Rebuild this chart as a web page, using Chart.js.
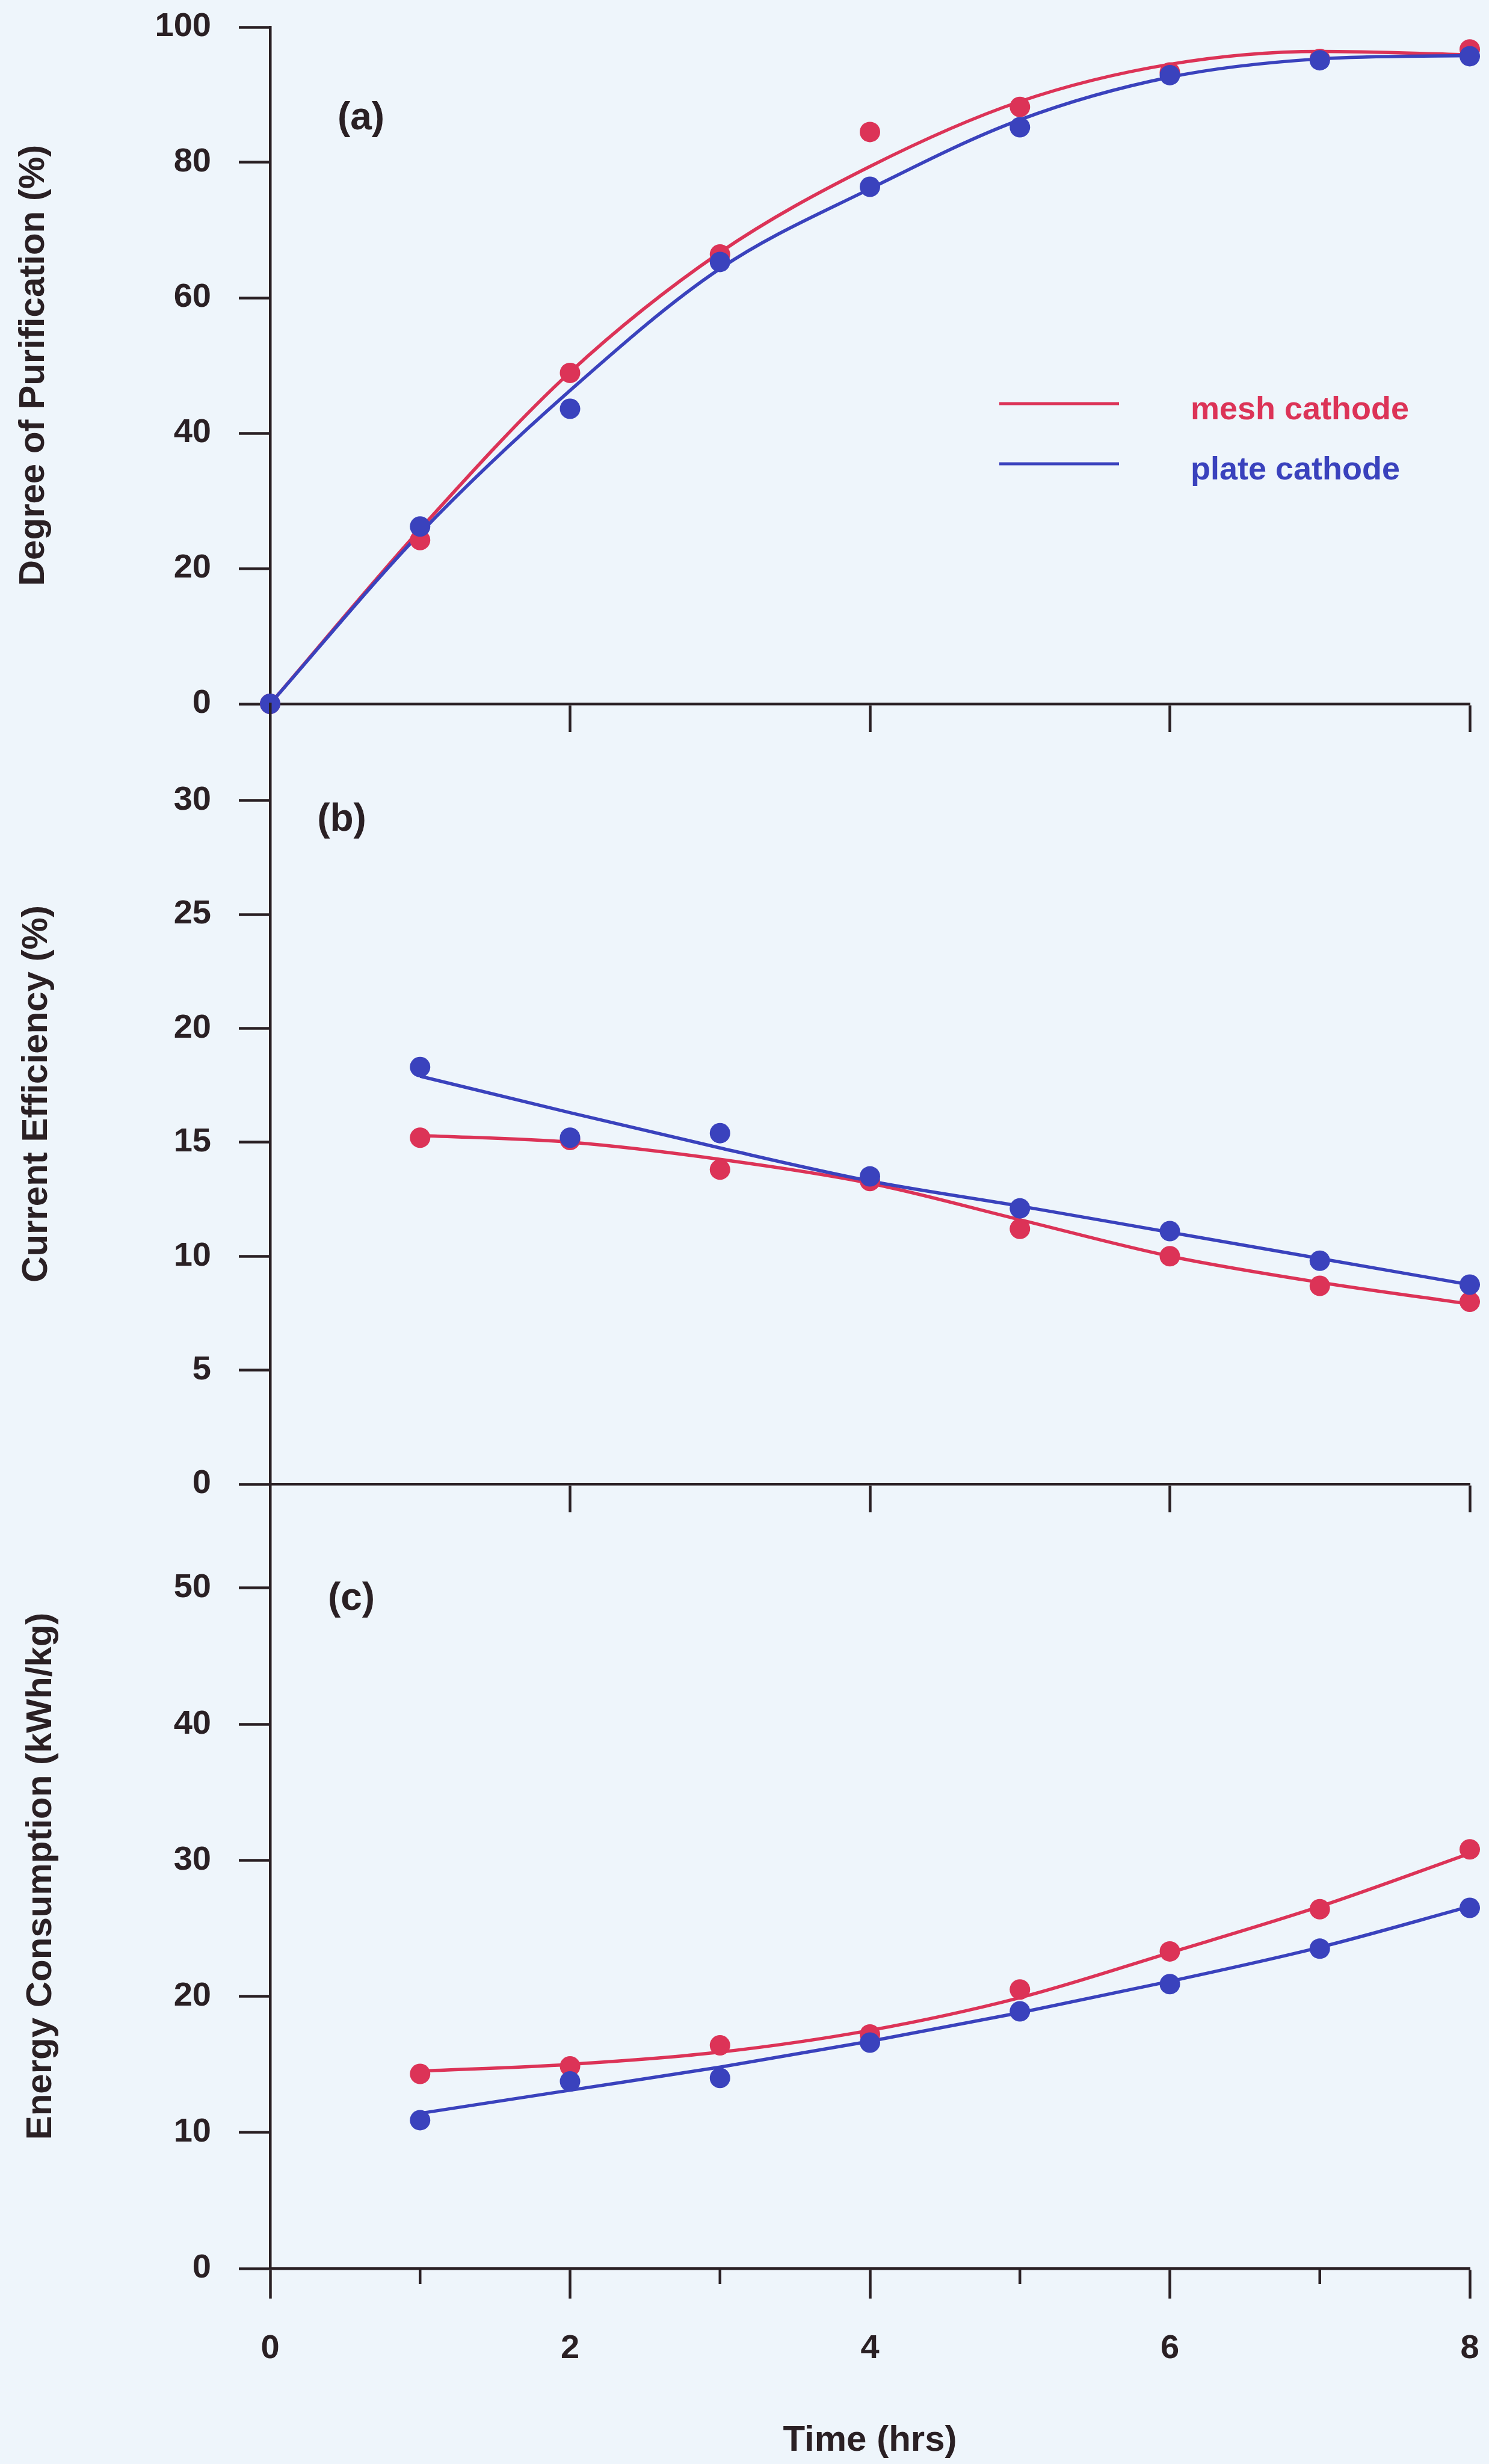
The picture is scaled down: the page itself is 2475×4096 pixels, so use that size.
<!DOCTYPE html>
<html>
<head>
<meta charset="utf-8">
<title>Mesh vs plate cathode</title>
<script src="https://cdn.jsdelivr.net/npm/chart.js@4.4.1/dist/chart.umd.min.js"></script>
<style>
  html, body { margin: 0; padding: 0; background: #eef5fb; }
  #figure { position: relative; width: 2475px; height: 4096px; }
  #figure canvas { position: absolute; left: 0; top: 0; }
</style>
</head>
<body>
<div id="figure">
  <canvas id="purification" width="2475" height="4096"></canvas>
  <canvas id="efficiency" width="2475" height="4096"></canvas>
  <canvas id="energy" width="2475" height="4096"></canvas>
</div>
<script>
const hours = [0, 1, 2, 3, 4, 5, 6, 7, 8];
const runHours = [1, 2, 3, 4, 5, 6, 7, 8];
const seriesNames = ['mesh cathode', 'plate cathode'];

// (a) degree of purification, %
const meshPurification = [0, 24.2, 48.9, 66.4, 84.5, 88.2, 93.3, 95.3, 96.7];
const platePurification = [0, 26.2, 43.6, 65.3, 76.4, 85.2, 92.9, 95.1, 95.7];
const meshPurificationFit = [0, 25.8, 49.0, 66.7, 79.4, 89.0, 94.5, 96.4, 95.9];
const platePurificationFit = [0, 25.2, 46.3, 64.3, 76.1, 86.3, 92.6, 95.3, 95.8];

// (b) current efficiency, %
const meshEfficiency = [15.2, 15.1, 13.8, 13.3, 11.2, 10.0, 8.7, 8.0];
const plateEfficiency = [18.3, 15.2, 15.4, 13.5, 12.1, 11.1, 9.8, 8.75];
const meshEfficiencyFit = [15.3, 15.0, 14.25, 13.2, 11.6, 10.0, 8.85, 7.9];
const plateEfficiencyFit = [17.9, 16.3, 14.75, 13.3, 12.2, 11.05, 9.9, 8.75];

// (c) energy consumption, kWh/kg
const meshEnergy = [14.3, 14.85, 16.4, 17.2, 20.5, 23.3, 26.4, 30.8];
const plateEnergy = [10.9, 13.75, 14.0, 16.6, 18.9, 20.9, 23.5, 26.5];
const meshEnergyFit = [14.5, 15.0, 15.9, 17.5, 19.9, 23.2, 26.6, 30.5];
const plateEnergyFit = [11.4, 13.1, 14.8, 16.7, 18.8, 21.1, 23.6, 26.6];

const purificationTicks = [0, 20, 40, 60, 80, 100];
const efficiencyTicks = [0, 5, 10, 15, 20, 25, 30];
const energyTicks = [0, 10, 20, 30, 40, 50];
const panelTimeTicks = [2, 4, 6, 8];
const timeTicks = [0, 1, 2, 3, 4, 5, 6, 7, 8];
const timeLabels = ['0', '', '2', '', '4', '', '6', '', '8'];

const FONT = "'Liberation Sans', Arial, Helvetica, sans-serif";
const AXIS = '#2a2024';
const MESH = '#dc3357';
const PLATE = '#3a42bd';
const W = 2475;
const H = 4096;
const LEFT = 449;
const RIGHT = 2443;

const toPoints = (xs, ys) => xs.map((x, i) => ({x, y: ys[i]}));
const fixedTicks = (list) => (scale) => {
  scale.ticks = list.map((value) => ({value}));
};

const curve = (label, color, xs, ys, order) => ({
  label,
  data: toPoints(xs, ys),
  borderColor: color,
  backgroundColor: color,
  borderWidth: 5.5,
  pointRadius: 0,
  pointHoverRadius: 0,
  cubicInterpolationMode: 'monotone',
  fill: false,
  order,
  isCurve: true,
});

const dots = (label, color, xs, ys, order) => ({
  label,
  data: toPoints(xs, ys),
  showLine: false,
  pointRadius: 17,
  pointHoverRadius: 17,
  pointBorderWidth: 0,
  pointBackgroundColor: color,
  borderColor: color,
  backgroundColor: color,
  clip: false,
  order,
});

const decorPlugin = {
  id: 'decor',
  afterDraw(chart, args, opts) {
    const {ctx} = chart;
    ctx.save();

    if (opts.tag) {
      ctx.font = `bold 64px ${FONT}`;
      ctx.fillStyle = AXIS;
      ctx.textAlign = 'center';
      ctx.textBaseline = 'middle';
      ctx.fillText(opts.tag.text, opts.tag.x, opts.tag.y);
    }

    if (opts.minorTicks) {
      const xs = chart.scales.x;
      const top = chart.chartArea.bottom;
      ctx.strokeStyle = AXIS;
      ctx.lineWidth = 4.5;
      opts.minorTicks.forEach((v) => {
        const px = xs.getPixelForValue(v);
        ctx.beginPath();
        ctx.moveTo(px, top);
        ctx.lineTo(px, top + opts.minorLength);
        ctx.stroke();
      });
    }

    if (opts.legend) {
      const lg = opts.legend;
      const entries = chart.data.datasets.filter((d) => d.isCurve);
      ctx.font = `bold 54px ${FONT}`;
      ctx.textAlign = 'left';
      ctx.textBaseline = 'alphabetic';
      entries.forEach((d, i) => {
        const y = lg.rows[i];
        ctx.strokeStyle = d.borderColor;
        ctx.lineWidth = 5;
        ctx.beginPath();
        ctx.moveTo(lg.x0, y);
        ctx.lineTo(lg.x1, y);
        ctx.stroke();
        ctx.fillStyle = d.borderColor;
        ctx.fillText(d.label, lg.textX, y + lg.baselineShift);
      });
    }

    ctx.restore();
  }
};

// tick labels must not push the plot area inwards: the plot edges are set by layout padding
const yAxis = (title, max, ticks, titlePad) => ({
  type: 'linear',
  min: 0,
  max,
  afterBuildTicks: fixedTicks(ticks),
  afterFit: (s) => {
    s.width = LEFT;
    s.paddingTop = 0;
    s.paddingBottom = 0;
  },
  border: {display: true, color: AXIS, width: 4.5},
  grid: {drawOnChartArea: false, drawTicks: true, tickLength: 52, tickWidth: 4.5, tickColor: AXIS},
  ticks: {color: AXIS, font: {family: FONT, size: 56, weight: 'bold'}, padding: 46},
  title: {display: true, text: title, color: AXIS, font: {family: FONT, size: 60, weight: 'bold'}, padding: {top: titlePad, bottom: 0}},
});

const innerX = () => ({
  type: 'linear',
  min: 0,
  max: 8,
  afterBuildTicks: fixedTicks(panelTimeTicks),
  afterFit: (s) => {
    s.height = 60;
    s.paddingLeft = 0;
    s.paddingRight = 0;
  },
  border: {display: true, color: AXIS, width: 4.5},
  grid: {drawOnChartArea: false, drawTicks: true, tickLength: 47, tickWidth: 4.5, tickColor: AXIS},
  ticks: {callback: () => '', font: {size: 10}},
});

const baseOptions = (padTop, padBottom, scales, decor) => ({
  responsive: false,
  animation: false,
  events: [],
  layout: {padding: {top: padTop, bottom: padBottom, left: 0, right: W - RIGHT}},
  plugins: {legend: {display: false}, tooltip: {enabled: false}, decor},
  scales,
});

// (a)
new Chart(document.getElementById('purification'), {
  type: 'line',
  data: {
    datasets: [
      curve(seriesNames[0], MESH, hours, meshPurificationFit, 3),
      curve(seriesNames[1], PLATE, hours, platePurificationFit, 2),
      dots(seriesNames[0], MESH, hours, meshPurification, 1),
      dots(seriesNames[1], PLATE, hours, platePurification, 0),
    ],
  },
  options: baseOptions(45, H - 1170 - 60, {
    x: innerX(),
    y: yAxis('Degree of Purification (%)', 100, purificationTicks, 20),
  }, {
    tag: {text: '(a)', x: 600, y: 197},
    legend: {x0: 1661, x1: 1860, textX: 1979, rows: [671, 771], baselineShift: 26},
  }),
  plugins: [decorPlugin],
});

// (b)
new Chart(document.getElementById('efficiency'), {
  type: 'line',
  data: {
    datasets: [
      curve(seriesNames[0], MESH, runHours, meshEfficiencyFit, 3),
      curve(seriesNames[1], PLATE, runHours, plateEfficiencyFit, 2),
      dots(seriesNames[0], MESH, runHours, meshEfficiency, 1),
      dots(seriesNames[1], PLATE, runHours, plateEfficiency, 0),
    ],
  },
  options: baseOptions(1170, H - 2467 - 60, {
    x: innerX(),
    y: yAxis('Current Efficiency (%)', 34.24, efficiencyTicks, 25),
  }, {
    tag: {text: '(b)', x: 568, y: 1363},
  }),
  plugins: [decorPlugin],
});

// (c)
new Chart(document.getElementById('energy'), {
  type: 'line',
  data: {
    datasets: [
      curve(seriesNames[0], MESH, runHours, meshEnergyFit, 3),
      curve(seriesNames[1], PLATE, runHours, plateEnergyFit, 2),
      dots(seriesNames[0], MESH, runHours, meshEnergy, 1),
      dots(seriesNames[1], PLATE, runHours, plateEnergy, 0),
    ],
  },
  options: baseOptions(2467, 0, {
    x: {
      type: 'linear',
      min: 0,
      max: 8,
      afterBuildTicks: fixedTicks(timeTicks),
      afterFit: (s) => {
        s.height = H - 3771;
        s.paddingLeft = 0;
        s.paddingRight = 0;
      },
      border: {display: true, color: AXIS, width: 4.5},
      grid: {
        drawOnChartArea: false,
        drawTicks: true,
        tickLength: 50,
        tickWidth: 4.5,
        tickColor: (c) => (timeLabels[c.index] ? AXIS : 'rgba(0,0,0,0)'),
      },
      ticks: {
        color: AXIS,
        font: {family: FONT, size: 56, weight: 'bold'},
        padding: 50,
        maxRotation: 0,
        autoSkip: false,
        callback: (v, i) => timeLabels[i],
      },
      title: {display: true, text: 'Time (hrs)', color: AXIS, font: {family: FONT, size: 60, weight: 'bold'}, padding: {top: 0, bottom: 3}},
    },
    y: yAxis('Energy Consumption (kWh/kg)', 57.64, energyTicks, 32),
  }, {
    tag: {text: '(c)', x: 584, y: 2658},
    minorTicks: timeTicks.filter((v, i) => !timeLabels[i]),
    minorLength: 26,
  }),
  plugins: [decorPlugin],
});
</script>
</body>
</html>
